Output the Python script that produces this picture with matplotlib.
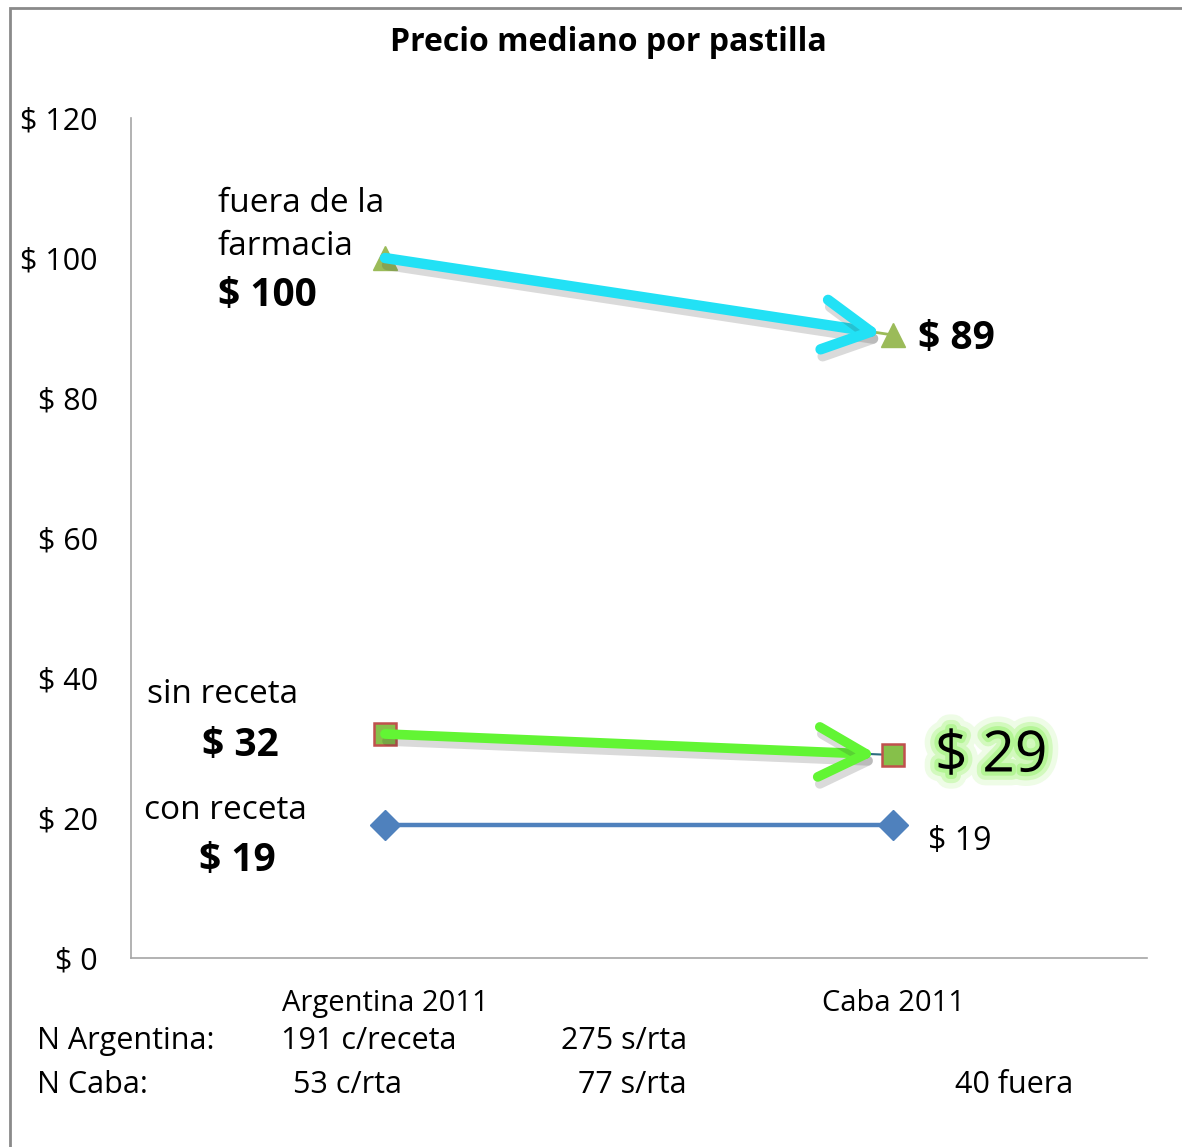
import matplotlib.pyplot as plt
import matplotlib.patheffects as pe
from matplotlib.patches import Rectangle

plt.rcParams['font.family'] = ['Open Sans', 'DejaVu Sans']

# data
categories = ['Argentina 2011', 'Caba 2011']
con_receta = [19, 19]
sin_receta = [32, 29]
fuera = [100, 89]
yticks = [0, 20, 40, 60, 80, 100, 120]

x = [0, 1]
fig = plt.figure(figsize=(11.82, 11.47), dpi=100)
ax = fig.add_axes([0.1108, 0.1648, 0.8596, 0.7323])

# border around the chart area
fig.patches.append(Rectangle((0.0085, -0.05), 1.2, 0.993 + 0.05, transform=fig.transFigure,
                             fill=False, edgecolor='#8a8a8a', linewidth=2))

ax.plot(x, con_receta, color='#4F81BD', linewidth=3.2, marker='D', markersize=15,
        markerfacecolor='#4F81BD', markeredgecolor='#4F81BD', zorder=3)
ax.plot(x, sin_receta, color='#2E6E80', linewidth=1.5, marker='s', markersize=16,
        markerfacecolor='#86C04A', markeredgecolor='#C0504D', markeredgewidth=1.8, zorder=3)
ax.plot(x, fuera, color='#9BBB59', linewidth=2, marker='^', markersize=17,
        markerfacecolor='#9BBB59', markeredgecolor='#9BBB59', zorder=3)

shadow = [pe.SimpleLineShadow(offset=(1.5, -5), alpha=0.18, shadow_color='#333333'), pe.Normal()]
ax.annotate('', xy=(x[1], fuera[1]), xytext=(x[0], fuera[0]),
            arrowprops=dict(arrowstyle='->, head_length=0.85, head_width=0.45', color='#22E1F5',
                            linewidth=7.5, mutation_scale=40, shrinkA=0, shrinkB=-8,
                            capstyle='round', joinstyle='round', path_effects=shadow), zorder=4)
ax.annotate('', xy=(x[1], sin_receta[1]), xytext=(x[0], sin_receta[0]),
            arrowprops=dict(arrowstyle='->, head_length=0.85, head_width=0.45', color='#62F534',
                            linewidth=7, mutation_scale=40, shrinkA=0, shrinkB=12,
                            capstyle='round', joinstyle='round', path_effects=shadow), zorder=4)

ax.set_xlim(-0.5, 1.5)
ax.set_ylim(0, 120)
ax.set_yticks(yticks)
ax.set_yticklabels([f'$ {v}' for v in yticks], fontsize=22)
ax.set_xticks(x)
ax.set_xticklabels(categories, fontsize=21)
ax.tick_params(axis='y', length=0, pad=24)
ax.tick_params(axis='x', length=0, pad=22)
for s in ['top', 'right']:
    ax.spines[s].set_visible(False)
for s in ['left', 'bottom']:
    ax.spines[s].set_color('#a6a6a6')
    ax.spines[s].set_linewidth(1.2)

fig.text(0.515, 0.963, 'Precio mediano por pastilla', ha='center', va='center',
         fontsize=23, fontweight='bold')

# series labels
lbl = dict(textcoords='offset pixels', ha='left', va='center', fontsize=24)
bold = dict(lbl, fontsize=28, fontweight='bold')
ax.annotate('fuera de la\nfarmacia', xy=(x[0], fuera[0]), xytext=(-167, 33), linespacing=1.42, **lbl)
ax.annotate(f'$ {fuera[0]}', xy=(x[0], fuera[0]), xytext=(-167, -37), **bold)
ax.annotate(f'$ {fuera[1]}', xy=(x[1], fuera[1]), xytext=(25, -3), **bold)
ax.annotate('sin receta', xy=(x[0], sin_receta[0]), xytext=(-238, 39), **lbl)
ax.annotate(f'$ {sin_receta[0]}', xy=(x[0], sin_receta[0]), xytext=(-183, -12), **bold)
ax.annotate('con receta', xy=(x[0], con_receta[0]), xytext=(-241, 14), **lbl)
ax.annotate(f'$ {con_receta[0]}', xy=(x[0], con_receta[0]), xytext=(-186, -36), **bold)
ax.annotate(f'$ {sin_receta[1]}', xy=(x[1], sin_receta[1]), xytext=(42, -2),
            path_effects=[pe.Stroke(linewidth=20, foreground='#eefce6'),
                          pe.Stroke(linewidth=12, foreground='#d2f9bd'),
                          pe.Stroke(linewidth=6, foreground='#b4f595'), pe.Normal()],
            **dict(lbl, fontsize=41))
ax.annotate(f'$ {con_receta[1]}', xy=(x[1], con_receta[1]), xytext=(35, -17), **dict(lbl, fontsize=23))

# sample sizes
fig.text(0.031, 0.0924, 'N Argentina:', va='center', fontsize=22)
fig.text(0.238, 0.0924, '191 c/receta', va='center', fontsize=22)
fig.text(0.475, 0.0924, '275 s/rta', va='center', fontsize=22)
fig.text(0.031, 0.0541, 'N Caba:', va='center', fontsize=22)
fig.text(0.248, 0.0541, '53 c/rta', va='center', fontsize=22)
fig.text(0.489, 0.0541, '77 s/rta', va='center', fontsize=22)
fig.text(0.808, 0.0541, '40 fuera', va='center', fontsize=22)

fig.savefig('out.png', dpi=100)
